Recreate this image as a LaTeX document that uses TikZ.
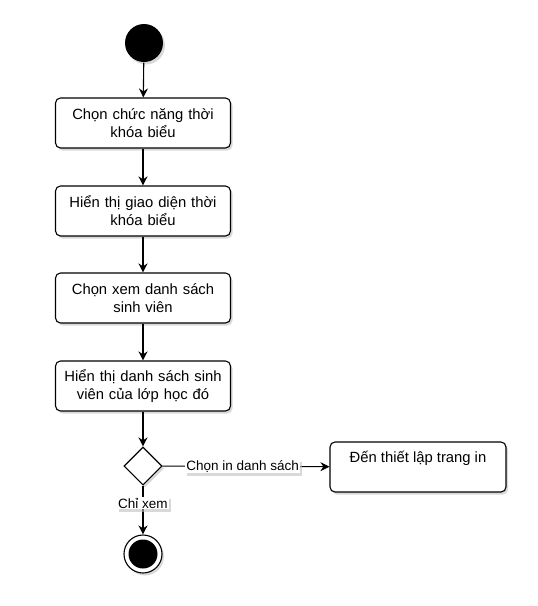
\documentclass[tikz,border=0pt]{standalone}
\usepackage{fontspec}
\setmainfont{Liberation Sans}
\usetikzlibrary{shadows,shapes.geometric,arrows.meta}
\begin{document}
\begin{tikzpicture}[x=1pt,y=-1pt,line width=1.1pt,
  shd/.style={drop shadow={shadow xshift=2pt,shadow yshift=-2.5pt,fill=black!25,opacity=0.6}},
  actbox/.style={draw,rounded corners=5pt,fill=white,shd,minimum width=175pt,minimum height=50pt,text width=170pt,align=center,font=\fontsize{14.8}{18}\selectfont,inner sep=0pt},
  flow/.style={draw,-{Stealth[length=9pt,width=9pt]}},
  elabel/.style={fill=white,font=\fontsize{13.5}{15}\selectfont,inner sep=1pt,shd}]
\useasboundingbox (0,0) rectangle (538,606);
\node[circle,fill=black,minimum size=38pt,inner sep=0pt,shd] (start) at (144,43) {};
\node[actbox] (a1) at (143,123) {Chọn chức năng thời\\khóa biểu};
\node[actbox] (a2) at (143,211) {Hiển thị giao diện thời\\khóa biểu};
\node[actbox] (a3) at (143,298) {Chọn xem danh sách\\sinh viên};
\node[actbox] (a4) at (143,386) {Hiển thị danh sách sinh\\viên của lớp học đó};
\node[diamond,draw,fill=white,minimum width=38pt,minimum height=38pt,inner sep=0pt,shd] (d) at (143,466) {};
\node[draw,rounded corners=5pt,fill=white,shd,minimum width=176pt,minimum height=50pt,inner sep=0pt] (a5) at (418,467) {};
\node[font=\fontsize{14.8}{18}\selectfont] (a5t) at (418,458) {Đến thiết lập trang in};
\node[circle,draw,fill=white,minimum size=38pt,inner sep=0pt,shd] (end) at (143,554) {};
\node[circle,fill=black,minimum size=29pt,inner sep=0pt] (endin) at (143,554) {};
\draw[flow] (start) -- (a1);
\draw[flow] (a1) -- (a2);
\draw[flow] (a2) -- (a3);
\draw[flow] (a3) -- (a4);
\draw[flow] (a4) -- (d);
\draw[flow] (d) -- node[elabel,pos=0.48] (l1) {Chọn in danh sách} (a5);
\draw[flow] (d) -- node[elabel,pos=0.36] (l2) {Chỉ xem} (end);
\end{tikzpicture}
\end{document}
